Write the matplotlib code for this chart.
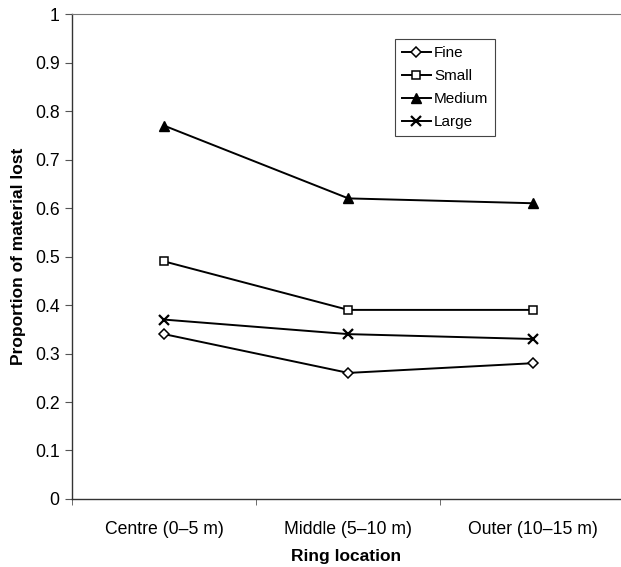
import matplotlib.pyplot as plt
from matplotlib.ticker import FuncFormatter
import numpy as np

plt.rcParams['font.family'] = ['Liberation Sans', 'DejaVu Sans']

locations = ['Centre (0\u20135 m)', 'Middle (5\u201310 m)', 'Outer (10\u201315 m)']
fine = [0.34, 0.26, 0.28]
small = [0.49, 0.39, 0.39]
medium = [0.77, 0.62, 0.61]
large = [0.37, 0.34, 0.33]
yticks = [0, 0.1, 0.2, 0.3, 0.4, 0.5, 0.6, 0.7, 0.8, 0.9, 1]

fig = plt.figure(figsize=(6.21, 5.67), dpi=100)
ax = fig.add_axes([0.116, 0.12, 0.884, 0.855])

x = np.arange(len(locations))
ax.plot(x, fine, color='black', lw=1.4, marker='D', ms=5, mfc='white', mec='black', mew=1.1, label='Fine')
ax.plot(x, small, color='black', lw=1.4, marker='s', ms=6, mfc='white', mec='black', mew=1.1, label='Small')
ax.plot(x, medium, color='black', lw=1.4, marker='^', ms=7, mfc='black', mec='black', label='Medium')
ax.plot(x, large, color='black', lw=1.4, marker='x', ms=7, mew=1.6, label='Large')

ax.set_xlim(-0.5, 2.48)
ax.set_ylim(0, 1)
ax.set_yticks(yticks)
ax.yaxis.set_major_formatter(FuncFormatter(lambda v, p: '%g' % v))
ax.set_xticks(x)
ax.set_xticklabels(locations)
ax.set_xticks([-0.5, 0.5, 1.5], minor=True)
ax.tick_params(axis='x', which='major', length=0, pad=16, labelsize=12.7)
ax.tick_params(axis='x', which='minor', length=4, direction='out', color='#555555')
ax.tick_params(axis='y', length=5, direction='out', pad=4, labelsize=12.7, color='#555555')

for s in ['left', 'bottom']:
    ax.spines[s].set_color('#333333')
    ax.spines[s].set_linewidth(1.0)
ax.spines['top'].set_color('#777777')
ax.spines['top'].set_linewidth(0.8)
ax.spines['right'].set_visible(False)

ax.set_xlabel('Ring location', fontsize=12.5, fontweight='bold', labelpad=8)
ax.set_ylabel('Proportion of material lost', fontsize=12.5, fontweight='bold', labelpad=6)

leg = ax.legend(loc='upper left', bbox_to_anchor=(395 / 621, 1 - 39 / 567),
                bbox_transform=fig.transFigure, borderaxespad=0, fancybox=False,
                edgecolor='#444444', fontsize=11, handlelength=1.9, handletextpad=0.2,
                labelspacing=0.6, borderpad=0.45, framealpha=1)
leg.get_frame().set_linewidth(0.8)

fig.savefig('out.png', dpi=100)
